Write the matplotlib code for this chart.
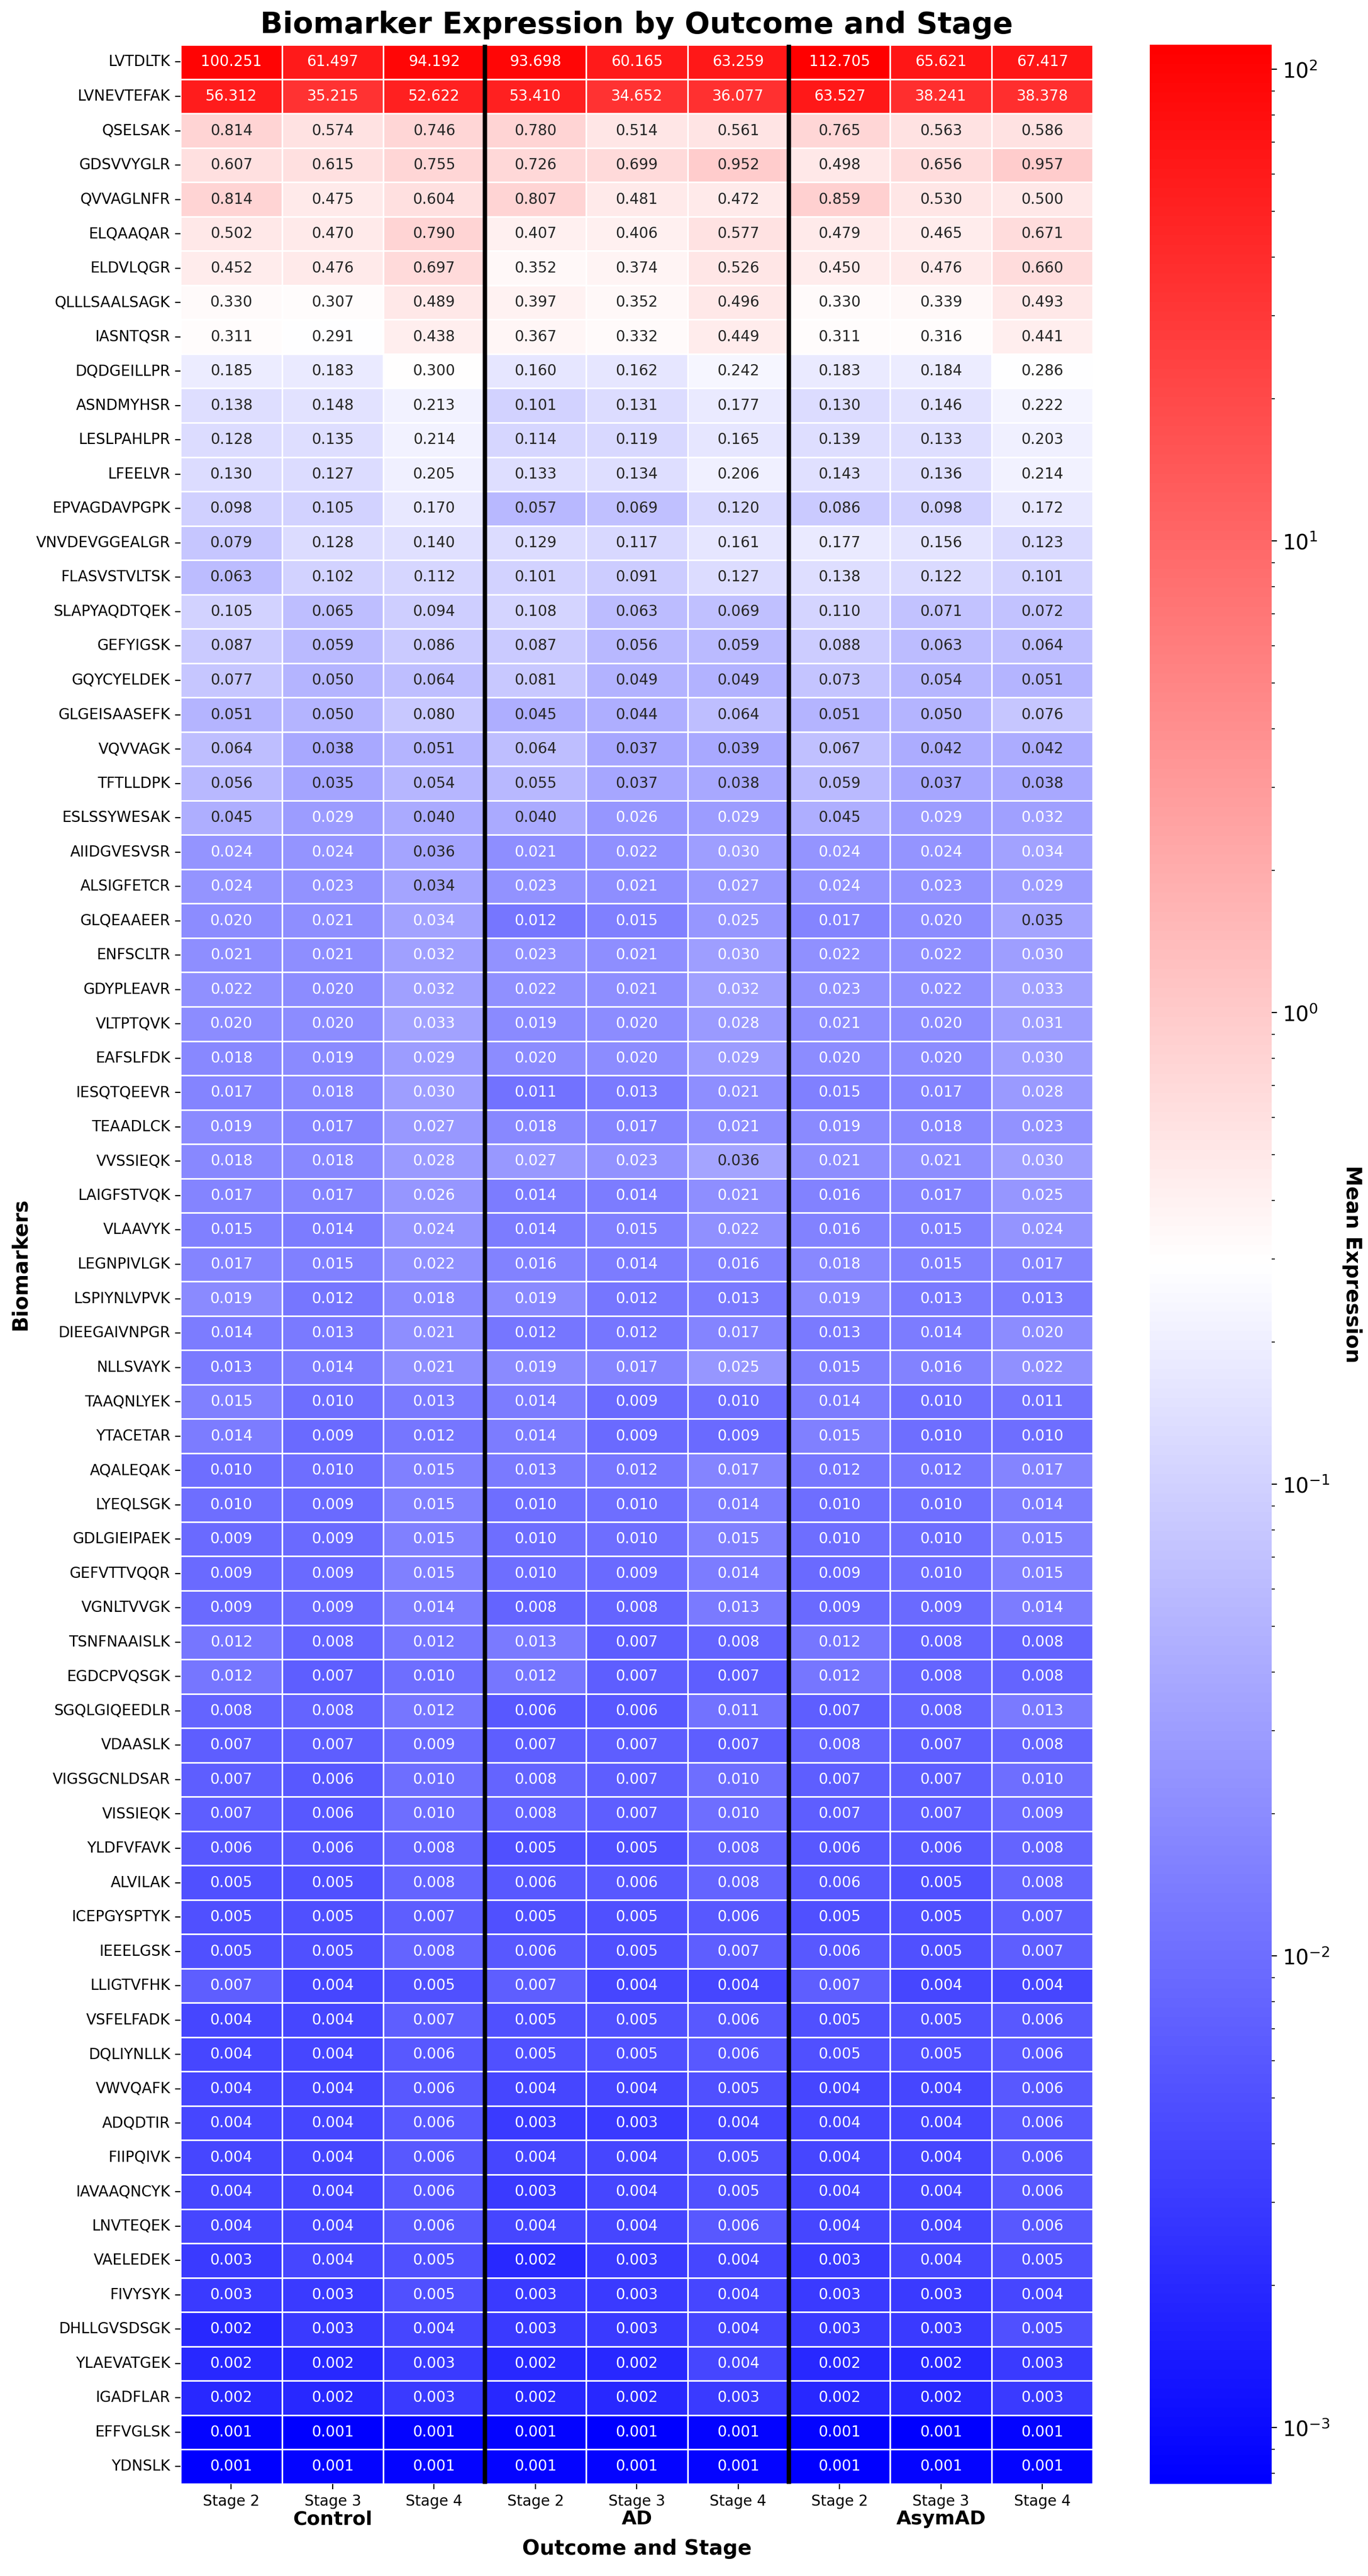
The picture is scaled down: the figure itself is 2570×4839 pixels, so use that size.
import numpy as np
import pandas as pd
import seaborn as sns
import matplotlib
matplotlib.use("Agg")
import matplotlib.pyplot as plt
from matplotlib.colors import LogNorm

biomarkers = [
    "LVTDLTK", "LVNEVTEFAK", "QSELSAK", "GDSVVYGLR", "QVVAGLNFR", "ELQAAQAR",
    "ELDVLQGR", "QLLLSAALSAGK", "IASNTQSR", "DQDGEILLPR", "ASNDMYHSR",
    "LESLPAHLPR", "LFEELVR", "EPVAGDAVPGPK", "VNVDEVGGEALGR", "FLASVSTVLTSK",
    "SLAPYAQDTQEK", "GEFYIGSK", "GQYCYELDEK", "GLGEISAASEFK", "VQVVAGK",
    "TFTLLDPK", "ESLSSYWESAK", "AIIDGVESVSR", "ALSIGFETCR", "GLQEAAEER",
    "ENFSCLTR", "GDYPLEAVR", "VLTPTQVK", "EAFSLFDK", "IESQTQEEVR", "TEAADLCK",
    "VVSSIEQK", "LAIGFSTVQK", "VLAAVYK", "LEGNPIVLGK", "LSPIYNLVPVK",
    "DIEEGAIVNPGR", "NLLSVAYK", "TAAQNLYEK", "YTACETAR", "AQALEQAK",
    "LYEQLSGK", "GDLGIEIPAEK", "GEFVTTVQQR", "VGNLTVVGK", "TSNFNAAISLK",
    "EGDCPVQSGK", "SGQLGIQEEDLR", "VDAASLK", "VIGSGCNLDSAR", "VISSIEQK",
    "YLDFVFAVK", "ALVILAK", "ICEPGYSPTYK", "IEEELGSK", "LLIGTVFHK",
    "VSFELFADK", "DQLIYNLLK", "VWVQAFK", "ADQDTIR", "FIIPQIVK", "IAVAAQNCYK",
    "LNVTEQEK", "VAELEDEK", "FIVYSYK", "DHLLGVSDSGK", "YLAEVATGEK",
    "IGADFLAR", "EFFVGLSK", "YDNSLK",
]

outcomes = ["Control", "AD", "AsymAD"]
stages = ["Stage 2", "Stage 3", "Stage 4"]

# mean expression, one row per biomarker: Stage 2, Stage 3, Stage 4
control = [
    [100.251, 61.497, 94.192], [56.312, 35.215, 52.622], [0.814, 0.574, 0.746],
    [0.607, 0.615, 0.755], [0.814, 0.475, 0.604], [0.502, 0.470, 0.790],
    [0.452, 0.476, 0.697], [0.330, 0.307, 0.489], [0.311, 0.291, 0.438],
    [0.185, 0.183, 0.300], [0.138, 0.148, 0.213], [0.128, 0.135, 0.214],
    [0.130, 0.127, 0.205], [0.098, 0.105, 0.170], [0.079, 0.128, 0.140],
    [0.063, 0.102, 0.112], [0.105, 0.065, 0.094], [0.087, 0.059, 0.086],
    [0.077, 0.050, 0.064], [0.051, 0.050, 0.080], [0.064, 0.038, 0.051],
    [0.056, 0.035, 0.054], [0.045, 0.029, 0.040], [0.024, 0.024, 0.036],
    [0.024, 0.023, 0.03449], [0.020, 0.021, 0.0336], [0.021, 0.021, 0.032],
    [0.022, 0.020, 0.032], [0.020, 0.020, 0.033], [0.018, 0.019, 0.029],
    [0.017, 0.018, 0.030], [0.019, 0.017, 0.027], [0.018, 0.018, 0.028],
    [0.017, 0.017, 0.026], [0.015, 0.014, 0.024], [0.017, 0.015, 0.022],
    [0.019, 0.012, 0.018], [0.014, 0.013, 0.021], [0.013, 0.014, 0.021],
    [0.015, 0.010, 0.013], [0.014, 0.009, 0.012], [0.010, 0.010, 0.015],
    [0.010, 0.009, 0.015], [0.009, 0.009, 0.015], [0.009, 0.009, 0.015],
    [0.009, 0.009, 0.014], [0.012, 0.008, 0.012], [0.012, 0.007, 0.010],
    [0.008, 0.008, 0.012], [0.007, 0.007, 0.009], [0.007, 0.006, 0.010],
    [0.007, 0.006, 0.010], [0.006, 0.006, 0.008], [0.005, 0.005, 0.008],
    [0.005, 0.005, 0.007], [0.005, 0.005, 0.008], [0.007, 0.004, 0.005],
    [0.004, 0.004, 0.007], [0.004, 0.004, 0.006], [0.004, 0.004, 0.006],
    [0.004, 0.004, 0.006], [0.004, 0.004, 0.006], [0.004, 0.004, 0.006],
    [0.004, 0.004, 0.006], [0.003, 0.004, 0.005], [0.003, 0.003, 0.005],
    [0.002, 0.003, 0.004], [0.002, 0.002, 0.003], [0.002, 0.002, 0.003],
    [0.00085, 0.00076, 0.00085], [0.00076, 0.00085, 0.00085],
]

ad = [
    [93.698, 60.165, 63.259], [53.410, 34.652, 36.077], [0.780, 0.514, 0.561],
    [0.726, 0.699, 0.952], [0.807, 0.481, 0.472], [0.407, 0.406, 0.577],
    [0.352, 0.374, 0.526], [0.397, 0.352, 0.496], [0.367, 0.332, 0.449],
    [0.160, 0.162, 0.242], [0.101, 0.131, 0.177], [0.114, 0.119, 0.165],
    [0.133, 0.134, 0.206], [0.057, 0.069, 0.120], [0.129, 0.117, 0.161],
    [0.101, 0.091, 0.127], [0.108, 0.063, 0.069], [0.087, 0.056, 0.059],
    [0.081, 0.049, 0.049], [0.045, 0.044, 0.064], [0.064, 0.037, 0.039],
    [0.055, 0.037, 0.038], [0.040, 0.026, 0.029], [0.021, 0.022, 0.030],
    [0.023, 0.021, 0.027], [0.012, 0.015, 0.025], [0.023, 0.021, 0.030],
    [0.022, 0.021, 0.032], [0.019, 0.020, 0.028], [0.020, 0.020, 0.029],
    [0.011, 0.013, 0.021], [0.018, 0.017, 0.021], [0.027, 0.023, 0.036],
    [0.014, 0.014, 0.021], [0.014, 0.015, 0.022], [0.016, 0.014, 0.016],
    [0.019, 0.012, 0.013], [0.012, 0.012, 0.017], [0.019, 0.017, 0.025],
    [0.014, 0.009, 0.010], [0.014, 0.009, 0.009], [0.013, 0.012, 0.017],
    [0.010, 0.010, 0.014], [0.010, 0.010, 0.015], [0.010, 0.009, 0.014],
    [0.008, 0.008, 0.013], [0.013, 0.007, 0.008], [0.012, 0.007, 0.007],
    [0.006, 0.006, 0.011], [0.007, 0.007, 0.007], [0.008, 0.007, 0.010],
    [0.008, 0.007, 0.010], [0.005, 0.005, 0.008], [0.006, 0.006, 0.008],
    [0.005, 0.005, 0.006], [0.006, 0.005, 0.007], [0.007, 0.004, 0.004],
    [0.005, 0.005, 0.006], [0.005, 0.005, 0.006], [0.004, 0.004, 0.005],
    [0.003, 0.003, 0.004], [0.004, 0.004, 0.005], [0.003, 0.004, 0.005],
    [0.004, 0.004, 0.006], [0.002, 0.003, 0.004], [0.003, 0.003, 0.004],
    [0.003, 0.003, 0.004], [0.002, 0.002, 0.004], [0.002, 0.002, 0.003],
    [0.00085, 0.00076, 0.00085], [0.00085, 0.00085, 0.00085],
]

asymad = [
    [112.705, 65.621, 67.417], [63.527, 38.241, 38.378], [0.765, 0.563, 0.586],
    [0.498, 0.656, 0.957], [0.859, 0.530, 0.500], [0.479, 0.465, 0.671],
    [0.450, 0.476, 0.660], [0.330, 0.339, 0.493], [0.311, 0.316, 0.441],
    [0.183, 0.184, 0.286], [0.130, 0.146, 0.222], [0.139, 0.133, 0.203],
    [0.143, 0.136, 0.214], [0.086, 0.098, 0.172], [0.177, 0.156, 0.123],
    [0.138, 0.122, 0.101], [0.110, 0.071, 0.072], [0.088, 0.063, 0.064],
    [0.073, 0.054, 0.051], [0.051, 0.050, 0.076], [0.067, 0.042, 0.042],
    [0.059, 0.037, 0.038], [0.045, 0.029, 0.032], [0.024, 0.024, 0.0336],
    [0.024, 0.023, 0.029], [0.017, 0.020, 0.035], [0.022, 0.022, 0.030],
    [0.023, 0.022, 0.033], [0.021, 0.020, 0.031], [0.020, 0.020, 0.030],
    [0.015, 0.017, 0.028], [0.019, 0.018, 0.023], [0.021, 0.021, 0.030],
    [0.016, 0.017, 0.025], [0.016, 0.015, 0.024], [0.018, 0.015, 0.017],
    [0.019, 0.013, 0.013], [0.013, 0.014, 0.020], [0.015, 0.016, 0.022],
    [0.014, 0.010, 0.011], [0.015, 0.010, 0.010], [0.012, 0.012, 0.017],
    [0.010, 0.010, 0.014], [0.010, 0.010, 0.015], [0.009, 0.010, 0.015],
    [0.009, 0.009, 0.014], [0.012, 0.008, 0.008], [0.012, 0.008, 0.008],
    [0.007, 0.008, 0.013], [0.008, 0.007, 0.008], [0.007, 0.007, 0.010],
    [0.007, 0.007, 0.009], [0.006, 0.006, 0.008], [0.006, 0.005, 0.008],
    [0.005, 0.005, 0.007], [0.006, 0.005, 0.007], [0.007, 0.004, 0.004],
    [0.005, 0.005, 0.006], [0.005, 0.005, 0.006], [0.004, 0.004, 0.006],
    [0.004, 0.004, 0.006], [0.004, 0.004, 0.006], [0.004, 0.004, 0.006],
    [0.004, 0.004, 0.006], [0.003, 0.004, 0.005], [0.003, 0.003, 0.004],
    [0.003, 0.003, 0.005], [0.002, 0.002, 0.003], [0.002, 0.002, 0.003],
    [0.00085, 0.00076, 0.00085], [0.00076, 0.00085, 0.00085],
]

cols = pd.MultiIndex.from_product([outcomes, stages])
df = pd.DataFrame(np.hstack([control, ad, asymad]), index=biomarkers, columns=cols)

fig = plt.figure(figsize=(12.85, 24.195), dpi=200)
ax = fig.add_axes([0.132, 0.0358, 0.667, 0.9468])
cax = fig.add_axes([0.8405, 0.0358, 0.0891, 0.9468])

sns.heatmap(df, ax=ax, cbar_ax=cax, cmap="bwr",
            norm=LogNorm(vmin=df.values.min(), vmax=df.values.max()),
            annot=True, fmt=".3f", annot_kws={"size": 10},
            linewidths=0.5, linecolor="white",
            xticklabels=stages * len(outcomes), yticklabels=True)

# separators between outcome groups
for k in range(1, len(outcomes)):
    ax.axvline(k * len(stages), color="black", linewidth=3)

ax.set_yticklabels(biomarkers, rotation=0, fontsize=10)
ax.set_xticklabels(stages * len(outcomes), rotation=0, fontsize=10)

trans = ax.get_xaxis_transform()
for k, name in enumerate(outcomes):
    ax.text(k * len(stages) + 1.5, -0.0145, name, transform=trans,
            ha="center", va="center", fontsize=13, fontweight="bold")

ax.set_title("Biomarker Expression by Outcome and Stage", fontsize=20,
             fontweight="bold", pad=8)
ax.set_xlabel("Outcome and Stage", fontsize=14, fontweight="bold")
ax.xaxis.set_label_coords(0.5, -0.0225)
ax.set_ylabel("Biomarkers", fontsize=14, fontweight="bold")
ax.yaxis.set_label_coords(-0.165, 0.5)

cax.tick_params(labelsize=14)
cax.set_ylabel("Mean Expression", fontsize=14, fontweight="bold",
               rotation=270, labelpad=22)

fig.savefig("out.png", dpi=200)
